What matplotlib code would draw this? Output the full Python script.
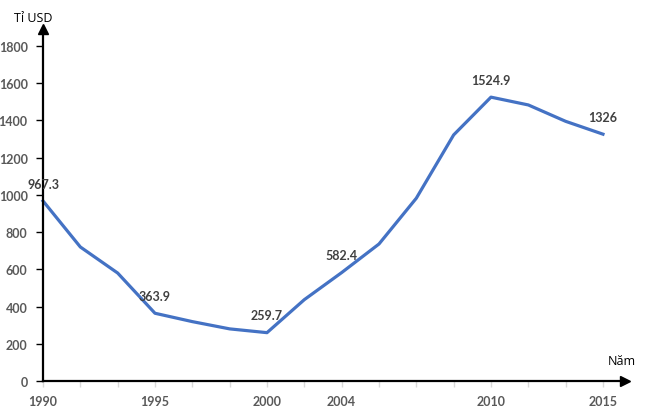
import matplotlib
matplotlib.use("Agg")
import matplotlib.pyplot as plt

years = ["1990", "", "", "1995", "", "", "2000", "", "2004", "", "", "", "2010", "", "", "2015"]
values = [967.3, 720, 580, 363.9, 319, 280, 259.7, 437, 582.4, 736, 982, 1322, 1524.9, 1483, 1395, 1326]
labels = ["967.3", None, None, "363.9", None, None, "259.7", None, "582.4", None, None, None, "1524.9", None, None, "1326"]
yticks = [0, 200, 400, 600, 800, 1000, 1200, 1400, 1600, 1800]

plt.rcParams['font.family'] = ['Lato', 'DejaVu Sans']

fig = plt.figure(figsize=(6.45, 4.14), dpi=100)
ax = fig.add_axes([43/645, 32/414, (625-43)/645, (382-30)/414])

x = list(range(len(values)))
ax.plot(x, values, color="#4472C4", lw=2.3, solid_joinstyle="round", clip_on=False)

for xi, v, lab in zip(x, values, labels):
    if lab:
        ax.annotate(lab, (xi, v), xytext=(0, 12.5), textcoords="offset points",
                    ha="center", va="center", fontsize=9, fontweight="bold", color="#404040")

ax.set_xlim(0, 15.59)
ax.set_ylim(0, 1891)
ax.set_xticks(x)
ax.set_xticklabels(years, fontsize=9, fontweight="bold", color="#595959")
ax.set_yticks(yticks)
ax.set_yticklabels([str(t) for t in yticks], fontsize=9, fontweight="bold", color="#595959")

for s in ["top", "right"]:
    ax.spines[s].set_visible(False)
for s in ["left", "bottom"]:
    ax.spines[s].set_linewidth(1.6)
    ax.spines[s].set_color("black")

ax.tick_params(axis="y", direction="out", length=5, width=1, color="black", pad=6)
ax.tick_params(axis="x", direction="out", length=4, width=1, color="#d9d9d9", pad=6)

ax.plot(1, 0, ">k", markersize=7, transform=ax.get_yaxis_transform(), clip_on=False)
ax.plot(0, 1, "^k", markersize=7, transform=ax.get_xaxis_transform(), clip_on=False)

fig.text(33/645, 1 - 19/414, "Tỉ USD", ha="center", va="center", fontsize=9,
         color="black", family=["Open Sans", "DejaVu Sans"])
fig.text(622/645, 1 - 362/414, "Năm", ha="center", va="center", fontsize=9,
         color="black", family=["Open Sans", "DejaVu Sans"])

fig.savefig("out.png", dpi=100)
